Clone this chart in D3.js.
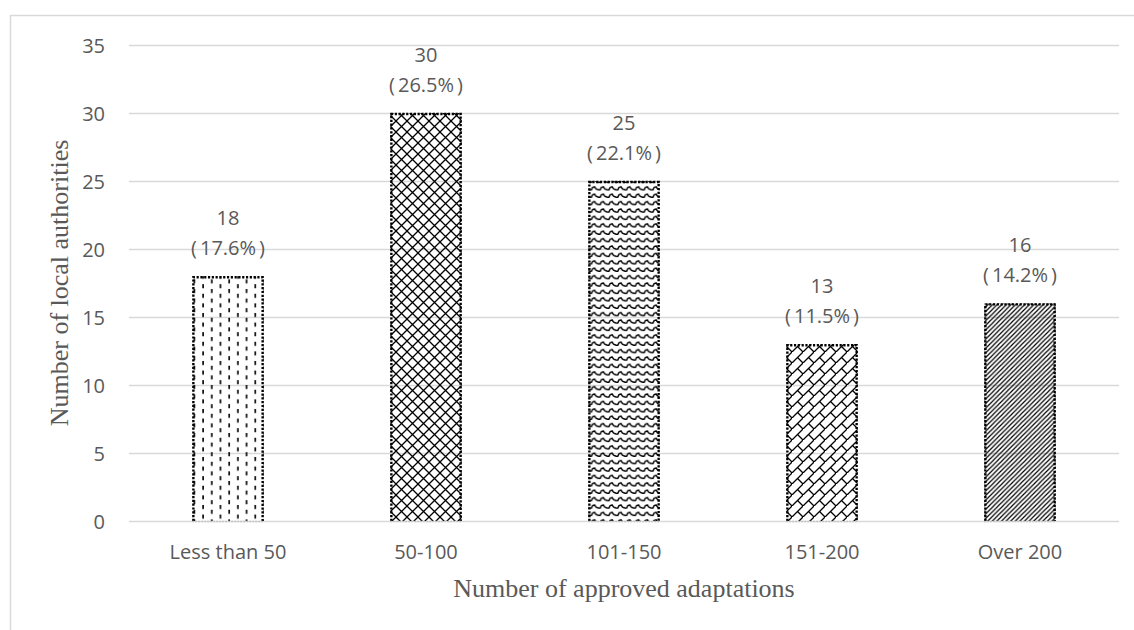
<!DOCTYPE html>
<html>
<head>
<meta charset="utf-8">
<script src="https://cdn.jsdelivr.net/npm/d3@7"></script>
<style>
  html, body { margin: 0; padding: 0; background: #fff; }
  svg { display: block; }
</style>
</head>
<body>
<div id="chart"></div>
<script>
const categories = ['Less than 50', '50-100', '101-150', '151-200', 'Over 200'];
const counts = [18, 30, 25, 13, 16];
const shares = ['17.6%', '26.5%', '22.1%', '11.5%', '14.2%'];
const yTicks = [0, 5, 10, 15, 20, 25, 30, 35];
const patternNames = ['dashVert', 'diagCross', 'wave', 'diagBrick', 'wideUpDiag'];

const WIDTH = 1134;
const HEIGHT = 630;
const MARGIN = { LEFT: 129, RIGHT: 15, TOP: 45, BOTTOM: 109 };
const TEXT_COLOR = '#595959';
const GRID_COLOR = '#d9d9d9';
const SANS = '"Open Sans", "Noto Sans", sans-serif';
const SERIF = '"Liberation Serif", "DejaVu Serif", serif';

const svg = d3.select('#chart')
  .append('svg')
  .attr('width', WIDTH)
  .attr('height', HEIGHT);

// outer chart-area frame (only top and left edges are in view)
svg.append('rect')
  .attr('x', 10.5)
  .attr('y', 15.5)
  .attr('width', WIDTH + 20)
  .attr('height', HEIGHT + 20)
  .attr('fill', 'none')
  .attr('stroke', GRID_COLOR)
  .attr('stroke-width', 1.5);

// fill patterns, roughly like the Excel pattern fills
const defs = svg.append('defs');
const makePattern = (id, w, h) =>
  defs.append('pattern')
    .attr('id', id)
    .attr('patternUnits', 'userSpaceOnUse')
    .attr('width', w)
    .attr('height', h);

const p1 = makePattern('dashVert', 17.4, 9.6);
p1.append('path').attr('d', 'M3,1V5 M11.7,5.8V9.8 M11.7,-3.8V0.2')
  .attr('stroke', '#000').attr('stroke-width', 1.6);

const p2 = makePattern('diagCross', 11, 11);
p2.append('path').attr('d', 'M0,0L11,11 M0,11L11,0')
  .attr('stroke', '#000').attr('stroke-width', 1.3);

const p3 = makePattern('wave', 8.8, 7.4);
p3.append('path').attr('d', 'M0,4.8L1.8,4.8L3,2.4L5,1.8L6.4,3.8L8.8,4.8')
  .attr('fill', 'none').attr('stroke', '#000').attr('stroke-width', 1.4);

const p4 = makePattern('diagBrick', 11, 11);
p4.append('path').attr('d', 'M-1,12L12,-1 M5.5,5.5L11,11')
  .attr('stroke', '#000').attr('stroke-width', 1.3);

const p5 = makePattern('wideUpDiag', 4.6, 4.6);
p5.append('path').attr('d', 'M-1,5.6L5.6,-1 M-1,1.0L1.0,-1 M3.6,5.6L5.6,3.6')
  .attr('stroke', '#000').attr('stroke-width', 1.2);

const x = d3.scaleBand(categories, [MARGIN.LEFT, WIDTH - MARGIN.RIGHT])
  .paddingInner(0.64)
  .paddingOuter(0.32);
const y = d3.scaleLinear([0, 35], [HEIGHT - MARGIN.BOTTOM, MARGIN.TOP]);

// gridlines + y tick labels
const yAxis = d3.axisLeft(y)
  .tickValues(yTicks)
  .tickSize(-(WIDTH - MARGIN.RIGHT - MARGIN.LEFT))
  .tickPadding(24);

const yAxisGroup = svg.append('g')
  .attr('transform', `translate(${MARGIN.LEFT}, 0)`)
  .call(yAxis);
yAxisGroup.select('.domain').remove();
yAxisGroup.selectAll('line')
  .attr('stroke', GRID_COLOR)
  .attr('stroke-width', 1.5);
yAxisGroup.selectAll('text')
  .attr('fill', TEXT_COLOR)
  .attr('dy', '0.36em')
  .style('font-family', SANS)
  .style('font-size', '20px');

const bars = svg.append('g')
  .selectAll('g')
  .data(categories.map((c, i) => ({ category: c, count: counts[i], share: shares[i], pattern: patternNames[i] })))
  .join('g');

bars.append('rect')
  .attr('x', (d) => x(d.category))
  .attr('y', (d) => y(d.count))
  .attr('width', x.bandwidth())
  .attr('height', (d) => y(0) - y(d.count))
  .attr('fill', (d) => `url(#${d.pattern})`);

// dotted outline, black on three sides, grey along the baseline
bars.append('path')
  .attr('d', (d) => {
    const x0 = x(d.category) + 1;
    const x1 = x(d.category) + x.bandwidth() - 1;
    return `M${x0},${y(0)}V${y(d.count) + 1}H${x1}V${y(0)}`;
  })
  .attr('fill', 'none')
  .attr('stroke', '#000')
  .attr('stroke-width', 2.4)
  .attr('stroke-dasharray', '2.2,1.6');

bars.append('line')
  .attr('x1', (d) => x(d.category))
  .attr('x2', (d) => x(d.category) + x.bandwidth())
  .attr('y1', y(0) + 0.5)
  .attr('y2', y(0) + 0.5)
  .attr('stroke', '#bfbfbf')
  .attr('stroke-width', 1.5)
  .attr('stroke-dasharray', '1.5,1.5');

const labelText = (sel) =>
  sel.attr('x', (d) => x(d.category) + x.bandwidth() / 2)
    .attr('text-anchor', 'middle')
    .attr('fill', TEXT_COLOR)
    .style('font-family', SANS)
    .style('font-size', '20px');

bars.append('text')
  .call(labelText)
  .attr('y', (d) => y(d.count) - 51)
  .text((d) => d.count);

// the percentage sits in wide-set brackets
const shareLabels = bars.append('text')
  .call(labelText)
  .attr('y', (d) => y(d.count) - 21);
shareLabels.append('tspan').text('(');
shareLabels.append('tspan').attr('dx', 3).text((d) => d.share);
shareLabels.append('tspan').attr('dx', 3).text(')');

// category labels
svg.append('g')
  .selectAll('text')
  .data(categories)
  .join('text')
  .attr('x', (d) => x(d) + x.bandwidth() / 2)
  .attr('y', 559)
  .attr('text-anchor', 'middle')
  .attr('fill', TEXT_COLOR)
  .style('font-family', SANS)
  .style('font-size', '20px')
  .text((d) => d);

// axis titles
svg.append('text')
  .attr('x', (MARGIN.LEFT + WIDTH - MARGIN.RIGHT) / 2)
  .attr('y', 597)
  .attr('text-anchor', 'middle')
  .attr('fill', TEXT_COLOR)
  .style('font-family', SERIF)
  .style('font-size', '26px')
  .text('Number of approved adaptations');

svg.append('text')
  .attr('transform', `translate(68, ${(y(0) + y(35)) / 2}) rotate(-90)`)
  .attr('text-anchor', 'middle')
  .attr('fill', TEXT_COLOR)
  .style('font-family', SERIF)
  .style('font-size', '26px')
  .text('Number of local authorities');
</script>
</body>
</html>
